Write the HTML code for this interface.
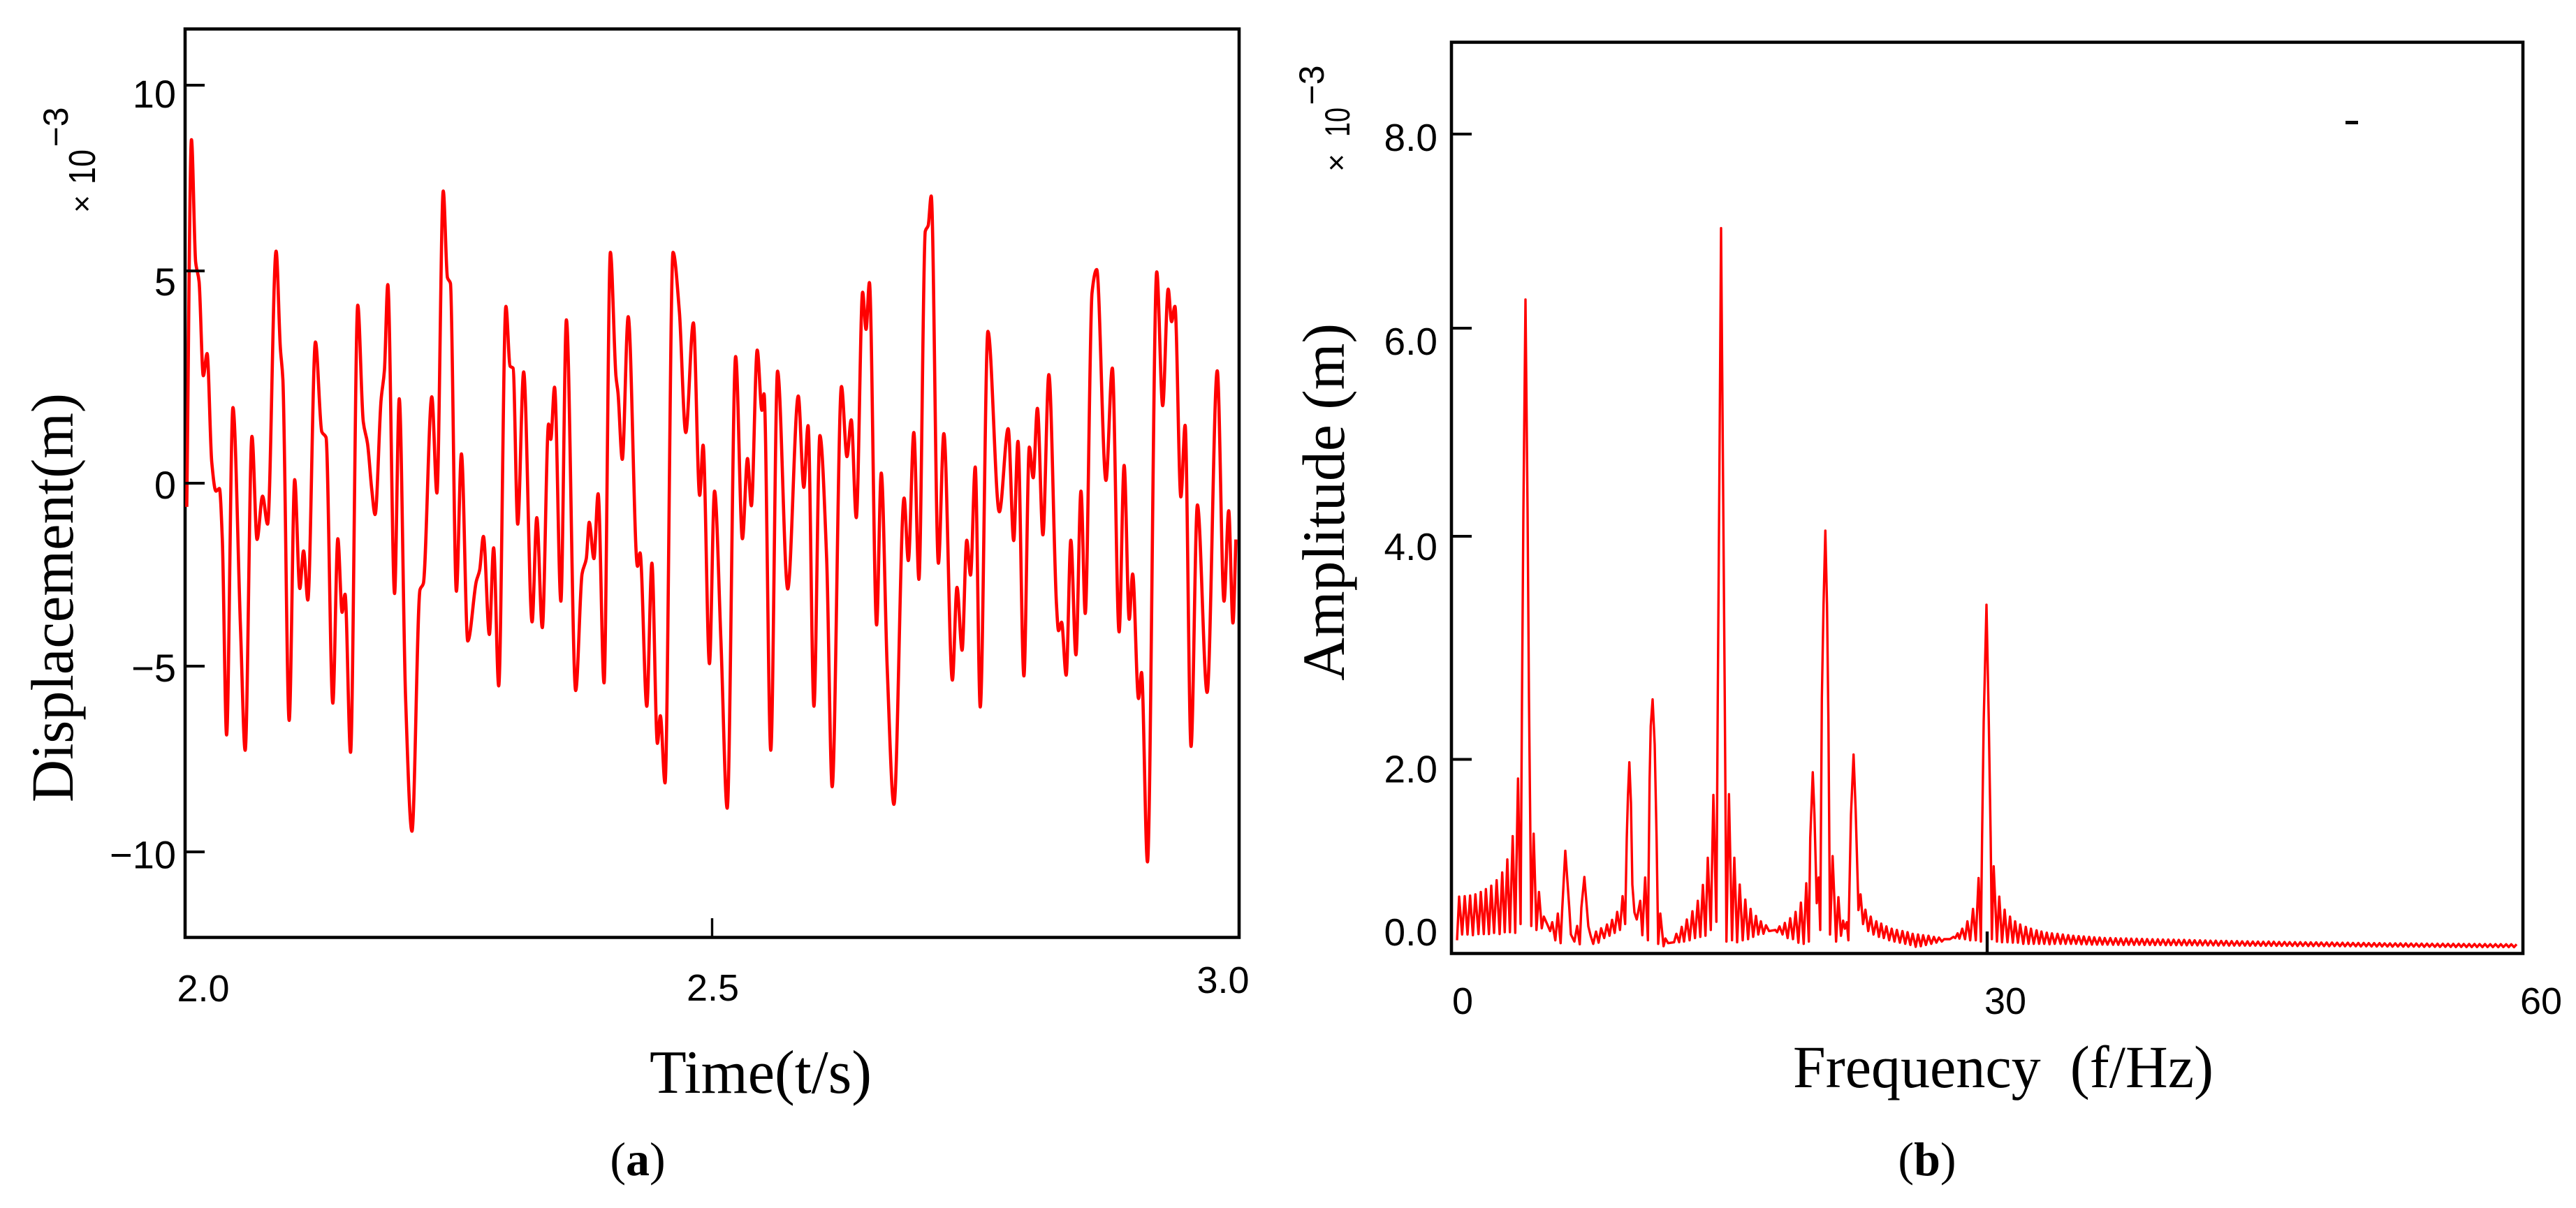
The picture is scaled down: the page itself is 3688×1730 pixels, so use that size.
<!DOCTYPE html>
<html lang="en">
<head>
<meta charset="utf-8">
<title>Displacement time history and amplitude spectrum</title>
<style>
html,body{margin:0;padding:0;background:#fff;}
#figure{display:block;width:3688px;height:1730px;background:#fff;}
text{fill:#000;}
.sans{font-family:"Liberation Sans",sans-serif;}
.serif{font-family:"Liberation Serif",serif;white-space:pre;}
</style>
</head>
<body>
<svg id="figure" xmlns="http://www.w3.org/2000/svg" width="3688" height="1730" viewBox="0 0 3688 1730">
  <rect x="265" y="41.5" width="1509" height="1301" fill="none" stroke="#050505" stroke-width="4.6"/>
  <rect x="2078" y="60.5" width="1534" height="1305" fill="none" stroke="#050505" stroke-width="4.6"/>
  <g id="panel-a"></g>
  <g id="panel-b"></g>

  <text class="serif" x="930" y="1565" font-size="88" textLength="318" lengthAdjust="spacingAndGlyphs">Time(t/s)</text>
  <text class="serif" transform="translate(104 1149) rotate(-90)" x="0" y="0" font-size="86" textLength="586" lengthAdjust="spacingAndGlyphs">Displacement(m)</text>
  <text class="sans" transform="translate(132 292) rotate(-90)" text-anchor="middle" font-size="44">×</text>
  <text class="sans" transform="translate(136 239) rotate(-90)" text-anchor="middle" font-size="54" textLength="50" lengthAdjust="spacingAndGlyphs">10</text>
  <text class="sans" transform="translate(97 182) rotate(-90)" text-anchor="middle" font-size="50">−3</text>

  <text class="serif" x="2567" y="1557" font-size="86" textLength="602" lengthAdjust="spacingAndGlyphs">Frequency  (f/Hz)</text>
  <text class="serif" transform="translate(1924 975) rotate(-90)" x="0" y="0" font-size="86" textLength="512" lengthAdjust="spacingAndGlyphs">Amplitude (m)</text>
  <text class="sans" transform="translate(1928 233) rotate(-90)" text-anchor="middle" font-size="44">×</text>
  <text class="sans" transform="translate(1932 175) rotate(-90)" text-anchor="middle" font-size="50" textLength="42" lengthAdjust="spacingAndGlyphs">10</text>
  <text class="sans" transform="translate(1895 122) rotate(-90)" text-anchor="middle" font-size="50">−3</text>

  <rect x="3358" y="173" width="18" height="5" fill="#0a0a0a"/>

  <text class="serif" x="913" y="1683" font-size="68" text-anchor="middle">(<tspan font-weight="bold">a</tspan>)</text>
  <text class="serif" x="2759" y="1683" font-size="68" text-anchor="middle">(<tspan font-weight="bold">b</tspan>)</text>
</svg>
<script>
/* ---------- Panel (a): displacement vs time ---------- */
const samplesPerSecond = 2490.6;
const timeStart = 2.0;
const displacementSamples = [
4,15,25,33,43,52,63,73,81,88,98,113,131,142,158,170,183,195,215,225,
231,246,259,271,280,290,308,323,333,349,361,371,378,391,408,421,431,441,449,463,
471,479,495,506,521,536,555,563,583,595,610,620,627,641,653,668,688,696,705,719,
729,741,758,768,775,786,800,820,831,844,859,864,873,888,901,923,938,948,955,966,
976,990,1005,1018,1023,1033,1047,1069,1075,1091,1103,1116,1123,1134,1153,1168,1183,1201,1216,1224,
1239,1251,1266,1281,1301,1317,1329,1338,1352,1363,1368,1384,1400,1424,1449,1462,1472,1486,1500,1516,
1529,1551,1564,1574,1586,1601,1609,1617,1634,1645,1659,1675,1699,1709,1722,1734,1749,1756,1763,1780,
1793,1813,1824,1836,1847,1856,1867,1879,1897,1924,1945,1958,1968,1982,1995,2004,2014,2027,2041,2059,
2064,2071,2082,2093,2105,2117,2127,2143,2154,2176,2191,2207,2219,2231,2239,2253,2260,2274,2296,2310,
2323,2331,2339,2353,2363,2377,2392,2415,2439,2455,2466,2476,2483
];
const displacementValues = [
-1.0,8.58,5.39,4.88,2.42,3.0,0.16,-0.59,-0.52,-1.85,-6.95,1.59,-4.2,-7.35,0.84,-1.85,-0.72,-1.45,5.67,3.17,
2.32,-6.57,-0.29,-3.13,-2.15,-3.43,3.3,0.96,0.81,-6.12,-1.83,-3.75,-3.28,-7.4,4.26,1.22,0.66,-0.54,-1.2,1.77,
2.57,4.8,-3.26,1.82,-6.0,-9.46,-3.16,-3.0,1.87,-0.64,7.24,4.98,4.83,-3.2,0.38,-4.5,-2.95,-2.65,-1.77,-4.33,
-2.07,-5.67,4.23,2.67,2.62,-1.45,2.52,-4.0,-1.28,-4.15,1.16,0.76,2.12,-3.46,3.88,-5.79,-2.75,-2.35,-1.4,-2.35,
-0.66,-5.59,5.64,2.42,1.97,0.24,3.96,-2.55,-2.2,-6.2,-2.47,-7.17,-6.45,-8.2,5.64,4.08,0.94,3.8,-0.7,0.61,
-5.09,-0.59,-4.43,-8.86,2.92,-1.83,0.26,-0.97,3.09,1.52,1.95,-7.35,2.54,-3.14,1.89,-0.49,1.12,-6.2,0.86,-2.35,
-8.3,2.14,0.31,1.27,-1.28,4.6,3.63,4.85,-4.08,-0.12,-5.2,-8.76,-0.77,-2.4,0.94,-2.89,6.19,6.34,7.11,-2.47,
0.91,-5.52,-3.1,-4.74,-1.87,-2.78,0.04,-6.22,3.58,-1.13,1.04,-1.88,0.71,-5.41,0.56,-0.24,1.57,-1.73,2.45,-3.53,
-4.23,-4.01,-5.39,-1.87,-4.86,-0.59,-3.78,4.58,5.19,-0.31,2.62,-4.26,0.08,-3.93,-2.75,-6.0,-5.32,-10.26,5.13,1.64,
4.68,3.83,4.23,-0.74,1.13,-7.25,-0.95,-5.84,2.55,-3.46,-1.1,-4.03,-1.85
];
const displacementTickValues = [10,5,0,-5,-10];
const displacementTickLabels = ["10","5","0","−5","−10"];
const timeTickValues = [2.0,2.5,3.0];
const timeTickLabels = ["2.0","2.5","3.0"];

/* ---------- Panel (b): amplitude spectrum ---------- */
const binsPerHz = 76.7;
const spectrumBins = [
24,33,46,57,69,80,92,103,116,126,139,148,161,171,183,194,207,218,229,240,
251,263,274,286,297,303,309,318,327,333,343,353,365,376,388,397,411,424,433,446,
457,469,476,489,506,513,528,540,551,558,571,588,598,609,621,632,643,656,668,679,
690,701,712,724,735,746,753,758,764,771,777,786,796,811,820,832,844,851,856,864,
873,881,888,897,911,919,931,956,966,978,989,999,1011,1023,1035,1046,1058,1069,1080,1091,
1101,1114,1125,1138,1144,1151,1158,1166,1174,1181,1192,1205,1215,1227,1238,1251,1262,1274,1285,1296,
1308,1318,1329,1340,1351,1364,1391,1399,1409,1422,1432,1444,1455,1467,1478,1490,1501,1513,1524,1535,
1541,1552,1559,1569,1577,1584,1591,1598,1606,1613,1619,1626,1637,1652,1662,1673,1682,1690,1698,1705,
1716,1727,1736,1746,1748,1757,1768,1778,1790,1801,1813,1825,1836,1846,1857,1868,1880,1891,1903,1913,
1926,1937,1949,1959,1971,1981,1994,2004,2016,2026,2038,2049,2061,2072,2083,2094,2106,2116,2141,2156,
2164,2174,2182,2194,2206,2216,2228,2240,2252,2264,2274,2279,2286,2298,2308,2316,2321,2329,2343,2353,
2365,2376,2388,2399,2411,2421,2433,2443,2456,2467,2479,2489,2501,2513,2524,2534,2546,2557,2569,2579,
2591,2603,2616,2626,2638,2649,2661,2671,2683,2694,2706,2716,2728,2739,2751,2761,2773,2784,2796,2806,
2818,2830,2842,2853,2864,2875,2887,2898,
2909,2920,2932,2943,2954,2966,2977,2988,3000,3011,3022,3034,3045,3056,3068,3079,3090,3102,3113,3124,
3136,3147,3158,3170,3181,3192,3204,3215,3226,3238,3249,3260,3272,3283,3294,3306,3317,3328,3340,3351,
3362,3374,3385,3396,3408,3419,3430,3442,3453,3464,3476,3487,3498,3510,3521,3532,3544,3555,3566,3578,
3589,3600,3612,3623,3634,3646,3657,3668,3680,3691,3702,3714,3725,3736,3748,3759,3770,3782,3793,3804,
3816,3827,3838,3850,3861,3872,3884,3895,3906,3918,3929,3940,3952,3963,3974,3986,3997,4008,4020,4031,
4042,4054,4065,4076,4088,4099,4110,4122,4133,4144,4156,4167,4178,4190,4201,4212,4224,4235,4246,4258,
4269,4280,4292,4303,4314,4326,4337,4348,4360,4371,4382,4394,4405,4416,4428,4439,4450,4462,4473,4484,
4496,4507,4518,4530,4541,4552,4564,4575
];
const spectrumAmplitudes = [
.078,.507,.135,.512,.135,.517,.128,.530,.139,.553,.139,.581,.139,.615,.151,.668,.139,.745,.158,.873,
.158,1.102,.151,1.667,.238,2.456,4.286,6.374,4.286,2.456,.219,1.125,.180,.553,.196,.311,.238,.169,.256,.078,
.341,.050,.398,.958,.398,.135,.066,.219,.039,.398,.700,.215,.123,.043,.164,.055,.196,.100,.233,.123,
.279,.151,.357,.180,.512,.238,1.084,1.495,1.827,1.427,.626,.352,.283,.466,.128,.695,.078,1.656,2.182,2.445,
1.999,1.084,.043,.341,.020,.096,.050,.059,.142,.059,.210,.066,.283,.078,.363,.100,.466,.112,.622,.123,
.889,.180,1.507,.260,2.456,4.743,7.076,4.743,2.456,.066,1.514,.078,.889,.059,.626,.078,.478,.089,.386,.112,
.318,.135,.265,.142,.226,.169,.180,.158,.215,.135,.249,.100,.295,.089,.357,.055,.448,.043,.638,.066,
1.084,1.729,1.312,.443,.695,.180,2.456,3.371,4.103,3.371,2.227,.135,.905,.066,.501,.123,.272,.192,.256,.078,
1.312,1.903,1.358,.558,.375,.530,.238,.379,.169,.311,.135,.265,.112,.242,.100,.215,.078,.192,.066,.180,
.055,.169,.043,.158,.032,.142,.014,.135,.020,.128,.032,.123,.043,.112,.055,.105,.066,.089,.089,.112,
.100,.146,.095,.192,.089,.265,.078,.386,.078,.690,.066,1.084,2.227,3.375,2.227,1.084,.089,.805,.066,.507,
.059,.379,.059,.311,.055,.265,.055,.233,.043,.210,.043,.192,.043,.176,.043,.164,.043,.153,.039,.146,
.043,.142,.043,.135,.043,.128,.043,.123,.043,.119,.039,.116,.039,.112,.036,.107,.036,.105,.036,.100,
.036,.100,.034,.098,.034,.096,.032,.096,
.034,.094,.033,.093,.034,.092,.032,.090,.033,.088,.031,.088,.032,.086,.030,.086,.031,.084,.030,.082,
.030,.082,.029,.080,.030,.078,.028,.078,.029,.076,.028,.074,.028,.074,.027,.072,.028,.072,.026,.070,
.027,.070,.026,.068,.026,.068,.025,.066,.026,.066,.024,.064,.025,.066,.024,.064,.024,.062,.023,.062,
.024,.060,.023,.060,.022,.060,.023,.058,.022,.058,.021,.058,.022,.056,.021,.056,.020,.056,.021,.054,
.020,.054,.019,.054,.020,.052,.019,.052,.018,.052,.019,.050,.018,.050,.017,.050,.018,.048,.017,.048,
.016,.048,.017,.047,.016,.047,.015,.046,.016,.046,.015,.045,.014,.045,.015,.044,.014,.044,.013,.044,
.014,.043,.013,.043,.012,.043,.013,.042,.012,.042,.012,.042,.012,.041,.011,.041,.012,.040,.011,.040,
.011,.040,.012,.039,.011,.039,.011,.039
];
const amplitudeTickValues = [8,6,4,2,0];
const amplitudeTickLabels = ["8.0","6.0","4.0","2.0","0.0"];
const frequencyTickValues = [0,30,60];
const frequencyTickLabels = ["0","30","60"];

/* ---------- Axis functions ---------- */
const SVG_NS = "http://www.w3.org/2000/svg";
function xTime(t){ return 265 + (t - 2) * 1509; }
function yDisplacement(v){ return 671 - v * 54.9; }
function xFrequency(f){ return 2078 + f * 1534 / 60; }
function yAmplitude(a){ return 1358 - a * 145.75; }

/* Layout corrections: the figure's printed ticks and labels sit off the plotting scale. */
const layoutA = { tickNudge:[0,-8.5,21,8.5,0], labelDrop:[12,15,2,2,3.5], xLabelNudge:[26,1,-23], xLabelY:[1415,1414,1403] };
const layoutB = { tickNudge:[0,-13.5,-7,21,-24], labelDrop:[4,18,14,13,0], xLabelNudge:[16,26,26], xLabelY:[1433,1433,1433] };

/* Monotone cubic path, which keeps the rounded tips on the displacement trace */
function monotonePath(xs, ys){
  const n = Math.min(xs.length, ys.length);
  const h = [], s = [], m = [];
  for (let i = 0; i < n - 1; i++){ h[i] = xs[i+1] - xs[i]; s[i] = (ys[i+1] - ys[i]) / h[i]; }
  m[0] = s[0]; m[n-1] = s[n-2];
  for (let i = 1; i < n - 1; i++){
    if (s[i-1] * s[i] <= 0) { m[i] = 0; }
    else {
      const a = Math.abs(s[i-1]), b = Math.abs(s[i]);
      m[i] = Math.sign(s[i]) * 2 * a * b / (a + b);
    }
  }
  let d = "M" + xs[0].toFixed(1) + " " + ys[0].toFixed(1);
  for (let i = 0; i < n - 1; i++){
    const c = h[i] / 3;
    d += "C" + (xs[i]+c).toFixed(1) + " " + (ys[i]+m[i]*c).toFixed(1) + " " +
         (xs[i+1]-c).toFixed(1) + " " + (ys[i+1]-m[i+1]*c).toFixed(1) + " " +
         xs[i+1].toFixed(1) + " " + ys[i+1].toFixed(1);
  }
  return d;
}
function linearPath(xs, ys){
  const n = Math.min(xs.length, ys.length);
  let d = "";
  for (let i = 0; i < n; i++){ d += (i ? "L" : "M") + xs[i].toFixed(1) + " " + ys[i].toFixed(1); }
  return d;
}
function node(tag){ return document.createElementNS(SVG_NS, tag); }
function setLine(el, x1, y1, x2, y2, w){
  el.setAttribute("x1", x1); el.setAttribute("y1", y1);
  el.setAttribute("x2", x2); el.setAttribute("y2", y2);
  el.setAttribute("stroke", "#050505"); el.setAttribute("stroke-width", w);
}
function setLabel(el, x, y, anchor, size, str){
  el.setAttribute("x", x); el.setAttribute("y", y);
  el.setAttribute("text-anchor", anchor); el.setAttribute("font-size", size);
  el.setAttribute("class", "sans"); el.textContent = str;
}

const panelA = document.getElementById("panel-a");
const panelB = document.getElementById("panel-b");

/* Panel (a) series */
const traceA = node("path");


traceA.setAttribute("d", monotonePath(
  displacementSamples.map(function(k){ return xTime(timeStart + k / samplesPerSecond); }),
  displacementValues.map(yDisplacement)));
traceA.setAttribute("fill", "none");
traceA.setAttribute("stroke", "#ff0000");
traceA.setAttribute("stroke-width", "4.6");
traceA.setAttribute("stroke-linejoin", "round");
panelA.appendChild(traceA);

/* Panel (a) y axis */
displacementTickValues.forEach(function(v, i){
  const py = yDisplacement(v) + layoutA.tickNudge[i];
  const tick = node("line");
  
  
  setLine(tick, 265, py, 293, py, 4);
  panelA.appendChild(tick);
  const label = node("text");
  
  
  setLabel(label, 252, py + layoutA.labelDrop[i] + 20, "end", 56, displacementTickLabels[i]);
  panelA.appendChild(label);
});

/* Panel (a) x axis: only the midpoint carries a printed tick */
timeTickValues.forEach(function(t, i){
  const px = xTime(t);
  if (i === 1) {
    const tick = node("line");
    
    
    setLine(tick, px, 1315, px, 1342, 3.4);
    panelA.appendChild(tick);
  }
  const label = node("text");
  
  
  setLabel(label, px + layoutA.xLabelNudge[i], layoutA.xLabelY[i] + 19, "middle", 54, timeTickLabels[i]);
  panelA.appendChild(label);
});

/* Panel (b) series */
const traceB = node("path");


traceB.setAttribute("d", linearPath(
  spectrumBins.map(function(b){ return xFrequency(b / binsPerHz); }),
  spectrumAmplitudes.map(yAmplitude)));
traceB.setAttribute("fill", "none");
traceB.setAttribute("stroke", "#ff0000");
traceB.setAttribute("stroke-width", "3.4");
traceB.setAttribute("stroke-linejoin", "round");
panelB.appendChild(traceB);

/* Panel (b) y axis: 0.0 carries no printed tick */
amplitudeTickValues.forEach(function(v, i){
  const py = yAmplitude(v) + layoutB.tickNudge[i];
  if (i < 4) {
    const tick = node("line");
    
    
    setLine(tick, 2078, py, 2107, py, 4);
    panelB.appendChild(tick);
  }
  const label = node("text");
  
  
  setLabel(label, 2058, py + layoutB.labelDrop[i] + 20, "end", 55, amplitudeTickLabels[i]);
  panelB.appendChild(label);
});

/* Panel (b) x axis: only the midpoint carries a printed tick */
frequencyTickValues.forEach(function(f, i){
  const px = xFrequency(f);
  if (i === 1) {
    const tick = node("line");
    
    
    setLine(tick, px, 1334, px, 1365, 4.4);
    panelB.appendChild(tick);
  }
  const label = node("text");
  
  
  setLabel(label, px + layoutB.xLabelNudge[i], layoutB.xLabelY[i] + 19, "middle", 54, frequencyTickLabels[i]);
  panelB.appendChild(label);
});
</script>
</body>
</html>
